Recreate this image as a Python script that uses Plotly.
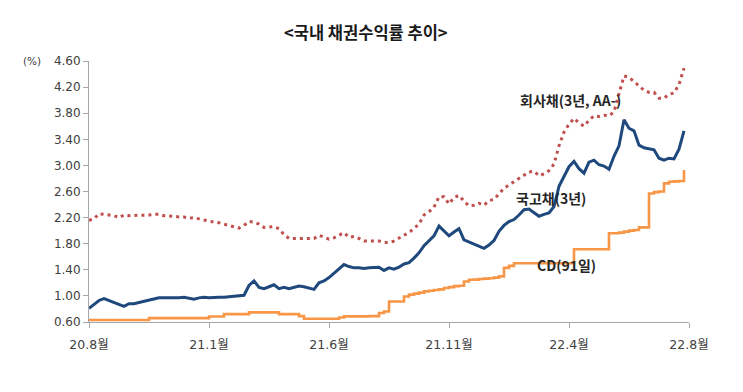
import plotly.graph_objects as go

# Tick labels for the category-like time axis (evenly spaced in the original)
x_tick_labels = ["20.8월", "21.1월", "21.6월", "21.11월", "22.4월", "22.8월"]
y_tick_values = [0.60, 1.00, 1.40, 1.80, 2.20, 2.60, 3.00, 3.40, 3.80, 4.20, 4.60]

# 회사채(3년, AA-) yields (%), ~120 sampled observations
corp_bond = [
    2.16, 2.18, 2.26, 2.25, 2.25, 2.23, 2.20, 2.24, 2.23, 2.23,
    2.24, 2.24, 2.24, 2.25, 2.25, 2.23, 2.23, 2.22, 2.21, 2.21,
    2.19, 2.20, 2.18, 2.16, 2.15, 2.13, 2.12, 2.10, 2.07, 2.05,
    2.04, 2.08, 2.14, 2.13, 2.10, 2.05, 2.05, 2.06, 2.03, 1.94,
    1.88, 1.88, 1.88, 1.87, 1.87, 1.88, 1.93, 1.90, 1.87, 1.89,
    1.93, 1.97, 1.90, 1.91, 1.88, 1.84, 1.84, 1.84, 1.84, 1.82,
    1.82, 1.84, 1.89, 1.93, 1.97, 2.03, 2.10, 2.24, 2.29, 2.36,
    2.52, 2.52, 2.41, 2.51, 2.54, 2.45, 2.38, 2.39, 2.42, 2.39,
    2.46, 2.48, 2.57, 2.65, 2.70, 2.75, 2.80, 2.86, 2.90, 2.91,
    2.84, 2.87, 2.92, 3.02, 3.30, 3.51, 3.63, 3.72, 3.65, 3.60,
    3.69, 3.76, 3.75, 3.77, 3.76, 3.82, 4.08, 4.37, 4.35, 4.29,
    4.22, 4.15, 4.12, 4.12, 4.03, 4.03, 4.09, 4.11, 4.24, 4.49,
]

# 국고채(3년) yields (%)
gov_bond = [
    0.81, 0.87, 0.93, 0.96, 0.93, 0.90, 0.87, 0.84, 0.88, 0.88,
    0.90, 0.92, 0.93, 0.96, 0.97, 0.97, 0.97, 0.96, 0.97, 0.98,
    0.96, 0.95, 0.97, 0.98, 0.97, 0.98, 0.98, 0.98, 0.99, 0.99,
    1.01, 1.01, 1.16, 1.23, 1.13, 1.11, 1.14, 1.17, 1.11, 1.13,
    1.11, 1.13, 1.15, 1.14, 1.12, 1.10, 1.20, 1.23, 1.28, 1.35,
    1.42, 1.48, 1.45, 1.43, 1.43, 1.42, 1.43, 1.43, 1.44, 1.39,
    1.43, 1.41, 1.44, 1.49, 1.51, 1.58, 1.66, 1.77, 1.85, 1.92,
    2.07, 1.99, 1.92, 1.98, 2.03, 1.86, 1.83, 1.80, 1.77, 1.73,
    1.78, 1.85, 1.99, 2.08, 2.14, 2.17, 2.24, 2.32, 2.33, 2.28,
    2.22, 2.25, 2.27, 2.37, 2.68, 2.83, 2.98, 3.06, 2.95, 2.88,
    3.05, 3.08, 3.01, 2.99, 2.94, 3.14, 3.30, 3.70, 3.57, 3.53,
    3.31, 3.27, 3.25, 3.24, 3.11, 3.08, 3.11, 3.10, 3.25, 3.53,
]

# CD(91일) yields (%)
cd_rate = [
    0.63, 0.63, 0.63, 0.63, 0.63, 0.63, 0.63, 0.63, 0.63, 0.63,
    0.63, 0.63, 0.66, 0.66, 0.66, 0.66, 0.66, 0.66, 0.66, 0.66,
    0.66, 0.66, 0.66, 0.66, 0.685, 0.685, 0.685, 0.72, 0.72, 0.72,
    0.72, 0.72, 0.747, 0.747, 0.747, 0.747, 0.747, 0.747, 0.72, 0.72,
    0.72, 0.72, 0.69, 0.65, 0.65, 0.65, 0.65, 0.65, 0.65, 0.65,
    0.67, 0.686, 0.686, 0.686, 0.686, 0.686, 0.69, 0.69, 0.737, 0.76,
    0.915, 0.915, 0.915, 0.99, 1.02, 1.035, 1.05, 1.07, 1.08, 1.09,
    1.10, 1.12, 1.135, 1.15, 1.155, 1.22, 1.247, 1.25, 1.26, 1.265,
    1.27, 1.28, 1.30, 1.43, 1.46, 1.50, 1.50, 1.50, 1.50, 1.50,
    1.50, 1.50, 1.50, 1.50, 1.50, 1.50, 1.50, 1.716, 1.716, 1.716,
    1.716, 1.716, 1.716, 1.716, 1.96, 1.96, 1.97, 1.985, 2.00, 2.01,
    2.05, 2.05, 2.57, 2.59, 2.60, 2.725, 2.75, 2.755, 2.76, 2.93,
]

n = len(gov_bond)
idx = list(range(n))
x_end = n  # axis end (last tick) one step after the last observation
tick_pos = [x_end * k / (len(x_tick_labels) - 1) for k in range(len(x_tick_labels))]

fig = go.Figure()
fig.add_trace(go.Scatter(
    x=idx, y=cd_rate, mode="lines", line_shape="hv",
    line=dict(color="#F79646", width=2.6), name="CD(91일)"))
fig.add_trace(go.Scatter(
    x=idx, y=gov_bond, mode="lines",
    line=dict(color="#1F497D", width=3), name="국고채(3년)"))
fig.add_trace(go.Scatter(
    x=idx, y=corp_bond, mode="lines",
    line=dict(color="#C0504D", width=3, dash="3px,4px"), name="회사채(3년, AA-)"))

axis_col = "#A6A6A6"
lab_font = dict(family="DejaVu Sans, Noto Sans CJK KR", size=12, color="#404040")

# page body has an 8px margin, so margins are reduced by 8 on the left/top
fig.update_layout(
    width=743, height=392,
    margin=dict(l=81, r=62, t=53, b=78),
    paper_bgcolor="white", plot_bgcolor="white",
    showlegend=False,
    xaxis=dict(
        range=[0, x_end], tickmode="array", tickvals=tick_pos, ticktext=x_tick_labels,
        showgrid=False, zeroline=False, showline=True, linecolor=axis_col, linewidth=1,
        ticks="outside", ticklen=5, tickcolor=axis_col,
        tickfont=dict(family="DejaVu Sans, Noto Sans CJK KR", size=12.5, color="#404040"),
        ticklabelstandoff=6,
    ),
    yaxis=dict(
        range=[0.6, 4.6], tickmode="array", tickvals=y_tick_values,
        ticktext=[f"{v:.2f}" for v in y_tick_values],
        showgrid=False, zeroline=False, showline=True, linecolor=axis_col, linewidth=1,
        ticks="outside", ticklen=5, tickcolor=axis_col, tickfont=lab_font,
    ),
)

ann_font = dict(family="Noto Sans CJK KR, DejaVu Sans", size=14, color="#262626")
common = dict(xref="paper", yref="paper", showarrow=False, xanchor="center", yanchor="middle")
fig.add_annotation(text="<b><국내 채권수익률 추이></b>", x=0.4617, y=1.111,
                   font=dict(family="Noto Sans CJK KR", size=16.5, color="#1a1a1a"), **common)
fig.add_annotation(text="(%)", x=-0.095, y=1.0,
                   font=dict(family="DejaVu Sans", size=10.5, color="#404040"), **common)
fig.add_annotation(text="<b>회사채(3년, AA-)</b>", x=0.803, y=0.851, font=ann_font, **common)
fig.add_annotation(text="<b>국고채(3년)</b>", x=0.77, y=0.475, font=ann_font, **common)
fig.add_annotation(text="<b>CD(91일)</b>", x=0.795, y=0.218, font=ann_font, **common)

fig.write_html("out.html")
